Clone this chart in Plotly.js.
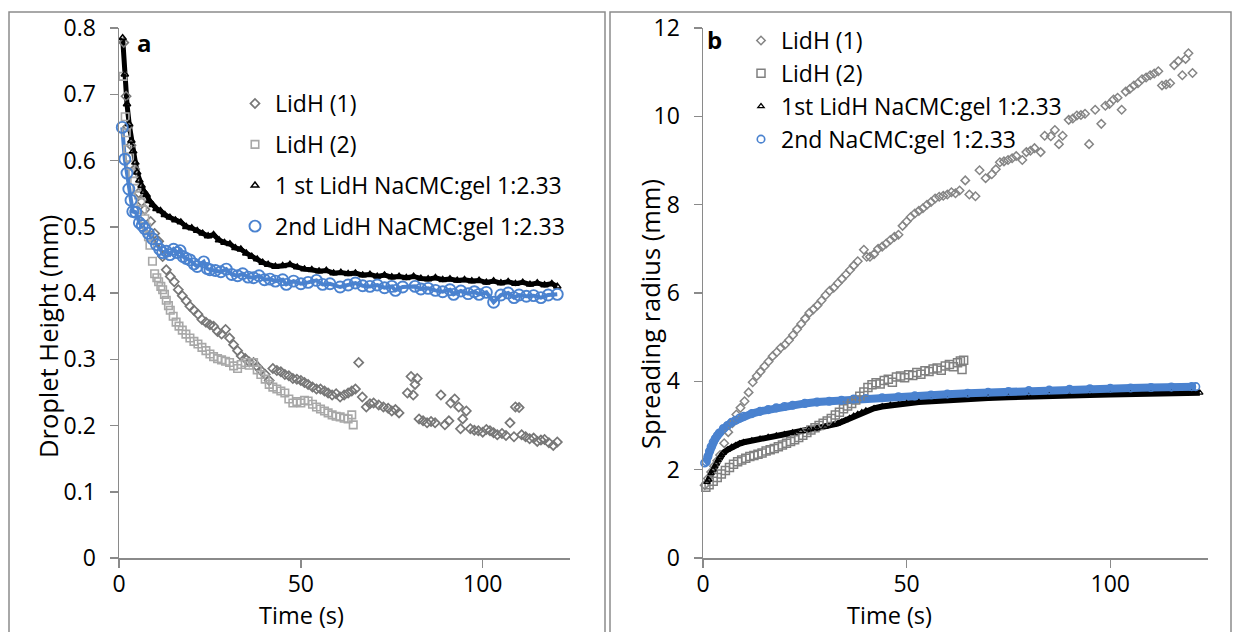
<!DOCTYPE html>
<html><head><meta charset="utf-8">
<script src="https://cdn.plot.ly/plotly-3.0.1.min.js"></script>
<style>html,body{margin:0;padding:0;background:#fff;}#chart{width:1234px;height:632px;}</style>
</head><body><div id="chart"></div>
<script>
// ---------- Panel a: droplet height (mm) vs time (s) ----------
const aD_t = [1.3,1.95,2.4,3.3,4.3,5.4,6.2,7.1,8.7,9.8,10.9,12,13,14.1,15.2,16.3,17.4,18.5,19.5,20.6,21.7,22.8,23.9,25,26,27.1,28.2,29.3,30.4,31.5,32.6,33.6,34.7,35.8,37,38,39,40.2,41.3,42.3,43.4,44.5,45.6,46.7,47.8,48.9,50,51,52,53.2,54.3,55.4,56.5,57.5,58.6,59.7,60.8,61.9,63,64,65,65.9,66.9,68,69,70,71.4,72.7,74,75,76,77,79.3,80.3,80.9,81.4,82,82.5,83.6,84.7,85.8,86.9,88.5,89.6,90.7,91.2,92.3,93.4,93.9,94.5,95.5,96.6,97.7,98.8,100,101,102,103,104,105.3,106.4,107.5,108.6,109,110,110.7,111.8,112.9,114,115,116,117,118.2,119.4,120.5];
const aD_h = [0.778,0.697,0.651,0.623,0.587,0.551,0.538,0.526,0.508,0.49,0.478,0.455,0.435,0.425,0.417,0.405,0.396,0.388,0.38,0.374,0.368,0.36,0.356,0.352,0.35,0.342,0.338,0.345,0.332,0.322,0.313,0.305,0.301,0.296,0.295,0.289,0.283,0.277,0.268,0.286,0.283,0.281,0.277,0.275,0.271,0.27,0.268,0.265,0.262,0.258,0.255,0.255,0.252,0.249,0.246,0.248,0.243,0.246,0.249,0.252,0.255,0.295,0.243,0.228,0.233,0.234,0.231,0.228,0.226,0.222,0.224,0.219,0.249,0.274,0.246,0.262,0.271,0.21,0.207,0.204,0.206,0.204,0.246,0.201,0.207,0.234,0.24,0.228,0.195,0.21,0.222,0.195,0.193,0.192,0.19,0.194,0.192,0.189,0.186,0.188,0.185,0.204,0.183,0.228,0.227,0.186,0.183,0.18,0.181,0.176,0.178,0.179,0.174,0.17,0.175];

const aS_t = [1.1,1.7,2.0,2.4,2.9,3.3,3.8,4.3,4.9,5.4,6.0,6.5,7.1,7.6,8.1,8.5,9.2,9.8,10.4,10.9,11.5,12,12.5,13,13.6,14.1,14.9,15.7,16.5,17.4,18.4,19.5,20.6,21.7,22.8,23.9,25,26,27.1,28.2,29.3,30.4,31.5,32.6,33.6,34.7,35.8,37,38,39,40.2,41.3,42.3,43.4,44.5,45.6,46.7,47.8,48.9,50,51,52,53.2,54.3,55.4,56.5,57.5,58.6,59.7,60.8,61.9,63,64,64.4];
const aS_h = [0.727,0.666,0.642,0.617,0.605,0.593,0.58,0.569,0.558,0.548,0.537,0.526,0.512,0.499,0.485,0.472,0.448,0.429,0.423,0.417,0.41,0.405,0.398,0.389,0.381,0.374,0.365,0.356,0.35,0.344,0.338,0.332,0.327,0.323,0.318,0.313,0.308,0.304,0.301,0.299,0.297,0.295,0.29,0.286,0.292,0.295,0.291,0.295,0.284,0.277,0.27,0.262,0.258,0.255,0.252,0.249,0.24,0.234,0.236,0.234,0.238,0.237,0.232,0.228,0.225,0.222,0.219,0.216,0.214,0.213,0.211,0.21,0.216,0.201];

const aT_t = [1.0,1.6,2.2,2.8,3.4,3.9,4.5,5.0,5.6,6.2,6.9,7.6,8.4,9.3,10.3,11.4,12.6,14,15.5,17,18.5,20,21.5,23,24.5,26,27.5,29,30.5,32,33.5,35,36.5,38,39.5,41,43,45,47,49,51,53,55,57,59,61,63,65,67,69,71,73,75,77,79,81,83,85,87,89,91,93,95,97,99,101,103,105,107,109,111,113,115,117,119,120.5];
const aT_h = [0.785,0.73,0.685,0.655,0.63,0.614,0.597,0.582,0.57,0.562,0.553,0.548,0.539,0.533,0.527,0.524,0.518,0.514,0.51,0.507,0.5,0.498,0.494,0.49,0.486,0.488,0.48,0.476,0.474,0.468,0.466,0.46,0.455,0.451,0.446,0.443,0.44,0.441,0.443,0.439,0.436,0.435,0.433,0.434,0.43,0.431,0.429,0.43,0.427,0.428,0.425,0.427,0.424,0.425,0.423,0.425,0.422,0.421,0.423,0.42,0.421,0.419,0.42,0.418,0.419,0.416,0.418,0.415,0.417,0.414,0.416,0.413,0.415,0.412,0.414,0.41];

const aC_t = [0.9,1.6,2.2,2.7,3.3,3.8,4.6,5.6,6.4,7.1,8.1,9.2,10.3,11.2,12,13,14,15,16,16.8,17.6,18.5,19.5,20.6,21.5,23.3,24.2,25,26.5,28,29.5,31,32.6,34,35.5,37,38.5,40,41.5,43,45,46,48,50,52,54.3,56,58,60.8,63,65,67,69,71,73,75,76,78,81.4,83,85,87,89,91,92,94,96,97.7,99,101,103,105,107,108.6,110,112,114,116,118,120.5];
const aC_h = [0.65,0.602,0.581,0.557,0.54,0.523,0.522,0.506,0.502,0.497,0.49,0.482,0.473,0.466,0.461,0.463,0.458,0.466,0.461,0.464,0.455,0.452,0.45,0.444,0.44,0.447,0.437,0.435,0.434,0.432,0.436,0.428,0.426,0.429,0.424,0.423,0.426,0.42,0.421,0.418,0.42,0.413,0.418,0.414,0.416,0.419,0.413,0.414,0.409,0.412,0.415,0.411,0.41,0.412,0.408,0.41,0.404,0.409,0.41,0.406,0.407,0.404,0.402,0.405,0.398,0.403,0.399,0.402,0.398,0.401,0.386,0.397,0.4,0.393,0.397,0.395,0.396,0.393,0.397,0.398];

// ---------- Panel b: spreading radius (mm) vs time (s) ----------
const bD_t = [0.4,1.2,2.0,2.7,3.5,4.2,5.2,6.2,7.2,8.2,9.2,10.2,11.2,12.2,13.2,14.1,15.1,16.1,17.1,18.1,19.1,20.1,21.1,22.1,23.1,24.1,25.1,26.1,27.1,28.1,29.1,30.1,31.1,32.1,33.1,34.1,35.1,36.1,37,38,39.5,40.2,41,42,43,44,45,46,47,48,49,50,51,52,53,54,55,56,57,58,59,60,61,62,63,64.4,65.4,66.9,67.9,69.4,70.9,71.9,72.9,73.9,74.9,75.9,76.9,78.4,79.4,80.4,81.4,82.9,83.9,85.4,86.4,87.4,88.3,89.8,90.8,91.8,92.8,93.8,94.8,96.3,97.8,98.8,99.8,100.8,101.8,102.8,103.8,104.8,105.8,106.8,107.8,108.8,109.8,110.8,111.8,112.7,113.7,114.7,115.7,116.7,117.7,118.5,119.2,120.2];
const bD_r = [1.65,1.8,1.95,2.08,2.2,2.33,2.6,2.85,3.05,3.25,3.4,3.55,3.75,3.98,4.12,4.22,4.34,4.45,4.57,4.66,4.76,4.83,4.93,5.05,5.18,5.3,5.42,5.55,5.63,5.72,5.83,5.95,6.05,6.12,6.22,6.32,6.42,6.52,6.62,6.72,6.98,6.82,6.82,6.88,7.0,7.05,7.12,7.2,7.27,7.32,7.52,7.62,7.72,7.8,7.86,7.92,8.0,8.06,8.14,8.18,8.2,8.23,8.28,8.26,8.32,8.55,8.23,8.19,8.78,8.6,8.69,8.8,8.96,8.98,9.01,9.05,9.1,9.01,9.19,9.22,9.28,9.19,9.56,9.55,9.69,9.37,9.56,9.92,9.95,10.02,10.03,10.06,9.37,10.15,9.83,10.24,10.28,10.38,10.42,10.15,10.56,10.62,10.7,10.75,10.84,10.88,10.93,10.97,11.02,10.7,10.72,10.75,11.16,11.25,10.93,11.3,11.43,10.98];

const bS_t = [0.7,1.5,2.5,3.5,4.5,5.5,6.5,7.5,8.5,9.5,10.5,11.5,12.5,13.5,14.5,15.5,16.5,17.5,18.5,19.5,20.5,21.5,22.5,23.5,24.5,25.5,26.5,27.5,28.5,29.5,30.5,31.5,32.5,33.5,34.5,35.5,36.5,37.5,38.5,39.5,40.5,41.5,42.5,43.5,44.5,45.5,46.5,47.5,48.5,49.5,50.5,51.5,52.5,53.5,54.5,55.5,56.5,57.5,58.5,59.5,60.5,61.5,62.5,63.2,63.6,64];
const bS_r = [1.6,1.66,1.74,1.82,1.9,1.98,2.05,2.12,2.18,2.22,2.26,2.3,2.32,2.35,2.38,2.42,2.45,2.48,2.52,2.56,2.6,2.64,2.68,2.73,2.78,2.84,2.9,2.95,3.0,3.05,3.1,3.16,3.24,3.3,3.38,3.44,3.5,3.58,3.66,3.76,3.86,3.92,3.97,3.94,4.02,4.05,3.98,4.1,4.12,4.08,4.15,4.13,4.2,4.16,4.24,4.22,4.28,4.3,4.25,4.35,4.38,4.33,4.42,4.46,4.27,4.48];

const bT_t = [1.0,1.4,2.0,2.5,2.9,3.3,3.7,4.1,4.5,5,6,7,8,9,10,12,14,16,18,20,22,24,26,28,30,32,33,34,35,36,37,38,39,40,42,44,46,48,50,53,56,60,65,70,75,80,85,90,95,100,105,110,115,120,122];
const bT_r = [1.72,1.77,1.92,2.0,2.07,2.14,2.22,2.28,2.33,2.38,2.45,2.51,2.55,2.59,2.62,2.66,2.7,2.74,2.77,2.8,2.84,2.87,2.91,2.94,2.97,3.01,3.04,3.08,3.12,3.17,3.22,3.26,3.3,3.34,3.39,3.43,3.46,3.48,3.5,3.53,3.55,3.57,3.6,3.62,3.64,3.66,3.67,3.68,3.69,3.7,3.71,3.72,3.73,3.74,3.74];

const bC_t = [0.4,0.8,1.2,1.6,2.0,2.5,3.0,3.5,4.0,5,6,7,8,9,10,12,14,16,18,20,22,25,28,31,34,37,40,44,48,52,56,60,65,70,75,80,85,90,95,100,105,110,115,120,121];
const bC_r = [2.15,2.18,2.3,2.42,2.52,2.62,2.7,2.77,2.83,2.93,3.0,3.07,3.12,3.17,3.21,3.27,3.32,3.36,3.4,3.43,3.46,3.5,3.53,3.55,3.57,3.6,3.61,3.63,3.65,3.67,3.69,3.71,3.73,3.75,3.77,3.79,3.8,3.82,3.83,3.84,3.85,3.86,3.87,3.88,3.88];

const namesA = ['LidH (1)','LidH (2)','1 st LidH NaCMC:gel 1:2.33','2nd LidH NaCMC:gel 1:2.33'];
const namesB = ['LidH (1)','LidH (2)','1st LidH NaCMC:gel 1:2.33','2nd NaCMC:gel 1:2.33'];

const FONT = 'Open Sans, Noto Sans, sans-serif';
const BLUE = '#4a82cf';
const W = 1234, H = 632;
const px = v => v / W;
const py = v => (H - v) / H;

function pts(x, y, name, sym, size, color, lw, xa, ya, lg, grp) {
  return {type:'scatter', mode:'markers', x:x, y:y, name:name, xaxis:xa, yaxis:ya, legend:lg, legendgroup:grp,
    cliponaxis:false, marker:{symbol:sym, size:size, color:color, line:{color:color, width:lw}}};
}
function band(x, y, color, w, xa, ya) {
  return {type:'scatter', mode:'lines', x:x, y:y, xaxis:xa, yaxis:ya, showlegend:false, hoverinfo:'skip',
    line:{color:color, width:w}};
}

const traces = [
  band(aT_t, aT_h, '#000', 5, 'x', 'y'),
  band(aC_t, aC_h, BLUE, 4, 'x', 'y'),
  pts(aD_t, aD_h, namesA[0], 'diamond-open', 7, '#777777', 1.7, 'x', 'y', 'legend', 'a1'),
  pts(aS_t, aS_h, namesA[1], 'square-open', 7.5, '#a8a8a8', 1.6, 'x', 'y', 'legend', 'a2'),
  pts(aT_t, aT_h, namesA[2], 'triangle-up-open', 6.5, '#000', 1.5, 'x', 'y', 'legend', 'a3'),
  pts(aC_t, aC_h, namesA[3], 'circle-open', 11, BLUE, 1.9, 'x', 'y', 'legend', 'a4'),
  band(bT_t, bT_r, '#000', 6, 'x2', 'y2'),
  band(bC_t, bC_r, BLUE, 8, 'x2', 'y2'),
  pts(bD_t, bD_r, namesB[0], 'diamond-open', 6.5, '#858585', 1.5, 'x2', 'y2', 'legend2', 'b1'),
  pts(bS_t, bS_r, namesB[1], 'square-open', 8, '#808080', 1.5, 'x2', 'y2', 'legend2', 'b2'),
  pts(bT_t, bT_r, namesB[2], 'triangle-up-open', 5.5, '#000', 1.3, 'x2', 'y2', 'legend2', 'b3'),
  pts(bC_t, bC_r, namesB[3], 'circle-open', 7.5, BLUE, 1.6, 'x2', 'y2', 'legend2', 'b4')
];

const axColor = '#8a8a8a';
function xax(dom) {
  return {domain:dom, range:[0,124], tickvals:[0,50,100], ticks:'outside', ticklen:8, tickwidth:1.5, tickcolor:axColor,
    showline:true, linecolor:axColor, linewidth:1.5, showgrid:false, zeroline:false, ticklabelstandoff:-3,
    tickfont:{family:FONT, size:23, color:'#000'}, fixedrange:true};
}
function yax(range, dtick, anchor) {
  return {domain:[py(558), py(28)], range:range, dtick:dtick, anchor:anchor, ticks:'outside', ticklen:8, tickwidth:1.5,
    tickcolor:axColor, showline:true, linecolor:axColor, linewidth:1.5, showgrid:false, zeroline:false,
    tickfont:{family:FONT, size:23, color:'#000'}, ticklabelstandoff:9, fixedrange:true};
}

const layout = {
  width:W, height:H, margin:{l:0,r:0,t:0,b:0}, paper_bgcolor:'#fff', plot_bgcolor:'rgba(0,0,0,0)',
  showlegend:true,
  xaxis: Object.assign(xax([px(119), px(570)]), {anchor:'y'}),
  yaxis: yax([0,0.8], 0.1, 'x'),
  xaxis2: Object.assign(xax([px(703), px(1208)]), {anchor:'y2'}),
  yaxis2: yax([0,12], 2, 'x2'),
  legend: {x:px(235), y:py(82), xanchor:'left', yanchor:'top', bgcolor:'rgba(0,0,0,0)', borderwidth:0,
    font:{family:FONT, size:23, color:'#000'}, tracegroupgap:8, traceorder:'grouped'},
  legend2: {x:px(741), y:py(19), xanchor:'left', yanchor:'top', bgcolor:'rgba(0,0,0,0)', borderwidth:0,
    font:{family:FONT, size:23, color:'#000'}, tracegroupgap:0, traceorder:'grouped'},
  shapes: [
    {type:'rect', xref:'paper', yref:'paper', x0:px(9), x1:px(605), y0:py(12), y1:-0.2, line:{color:'#8c8c8c', width:1.5}},
    {type:'rect', xref:'paper', yref:'paper', x0:px(610), x1:px(1231), y0:py(12), y1:-0.2, line:{color:'#8c8c8c', width:1.5}}
  ],
  annotations: [
    {text:'Droplet Height (mm)', xref:'paper', yref:'paper', x:px(48), y:py(337), textangle:-90, showarrow:false,
      xanchor:'center', yanchor:'middle', font:{family:FONT, size:25.5, color:'#000'}},
    {text:'Spreading radius (mm)', xref:'paper', yref:'paper', x:px(650), y:py(314), textangle:-90, showarrow:false,
      xanchor:'center', yanchor:'middle', font:{family:FONT, size:25.5, color:'#000'}},
    {text:'Time (s)', xref:'paper', yref:'paper', x:px(301), y:py(632), showarrow:false, borderpad:0,
      xanchor:'center', yanchor:'bottom', font:{family:FONT, size:23.5, color:'#000'}},
    {text:'Time (s)', xref:'paper', yref:'paper', x:px(890), y:py(632), showarrow:false, borderpad:0,
      xanchor:'center', yanchor:'bottom', font:{family:FONT, size:23.5, color:'#000'}},
    {text:'<b>a</b>', xref:'paper', yref:'paper', x:px(144), y:py(42), showarrow:false,
      xanchor:'center', yanchor:'middle', font:{family:FONT, size:24, color:'#000'}},
    {text:'<b>b</b>', xref:'paper', yref:'paper', x:px(714), y:py(39), showarrow:false,
      xanchor:'center', yanchor:'middle', font:{family:FONT, size:24, color:'#000'}}
  ]
};

Plotly.newPlot('chart', traces, layout, {displayModeBar:false, staticPlot:true});
</script>
</body></html>
